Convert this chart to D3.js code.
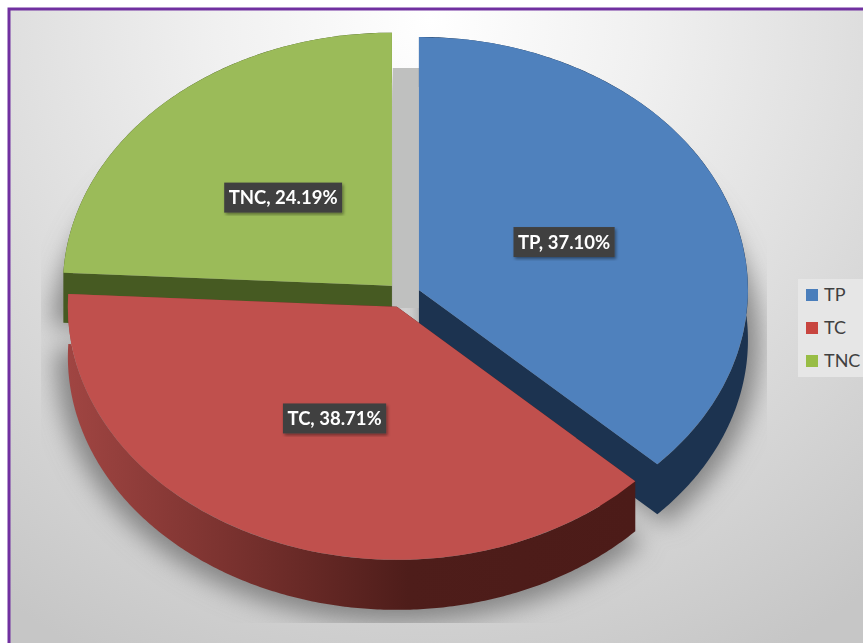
<!DOCTYPE html>
<html>
<head>
<meta charset="utf-8">
<script src="https://cdn.jsdelivr.net/npm/d3@7"></script>
<style>
  html, body { margin: 0; padding: 0; background: #fff; overflow: hidden; }
  svg { display: block; }
  text { font-family: Lato, "Open Sans", sans-serif; }
</style>
</head>
<body>
<svg width="863" height="643"></svg>
<script>
const categories = ["TP", "TC", "TNC"];
const percents = [37.10, 38.71, 24.19];
const topColors = ["#4f81bd", "#c0504d", "#9bbb59"];
const legendColors = ["#4a7ebb", "#c8453f", "#98bd45"];
const wallColors = ["#1c3350", "url(#redWall)", "#465a22"];

const svg = d3.select("svg");
const defs = svg.append("defs");

const cx = 403.5, cy = 295;
const rx = 329, ky = 0.769;
const depth = 50, explode = 16.8;
// how far out along the slice the labels sit
const labelRadius = 0.48;

// page background
const bg = defs.append("radialGradient").attr("id", "bg")
  .attr("gradientUnits", "userSpaceOnUse")
  .attr("cx", 430).attr("cy", 20).attr("r", 720);
bg.append("stop").attr("offset", 0).attr("stop-color", "#ffffff");
bg.append("stop").attr("offset", 0.3).attr("stop-color", "#f0f0f0");
bg.append("stop").attr("offset", 0.7).attr("stop-color", "#d8d8d8");
bg.append("stop").attr("offset", 1).attr("stop-color", "#c6c6c6");

const redWall = defs.append("linearGradient").attr("id", "redWall")
  .attr("gradientUnits", "userSpaceOnUse")
  .attr("x1", 68).attr("x2", 636).attr("y1", 0).attr("y2", 0);
redWall.append("stop").attr("offset", 0).attr("stop-color", "#a04542");
redWall.append("stop").attr("offset", 0.3).attr("stop-color", "#78312e");
redWall.append("stop").attr("offset", 0.6).attr("stop-color", "#4e1d1a");
redWall.append("stop").attr("offset", 1).attr("stop-color", "#4c1b18");

defs.append("filter").attr("id", "blur")
  .attr("x", "-20%").attr("y", "-20%").attr("width", "140%").attr("height", "140%")
  .append("feGaussianBlur").attr("stdDeviation", 12);

const labelShadow = defs.append("filter").attr("id", "labelShadow");
labelShadow.append("feDropShadow")
  .attr("dx", 1.5).attr("dy", 2).attr("stdDeviation", 1.5)
  .attr("flood-color", "#000").attr("flood-opacity", 0.4);

defs.append("clipPath").attr("id", "plotClip")
  .append("rect").attr("x", 41).attr("y", 68).attr("width", 726).attr("height", 555);

svg.append("rect").attr("width", 863).attr("height", 643).attr("fill", "#fff");
svg.append("rect").attr("x", 9).attr("y", 9).attr("width", 860).attr("height", 640)
  .attr("fill", "url(#bg)").attr("stroke", "#7030a0").attr("stroke-width", 3);

const pie = d3.pie().sort(null).startAngle(0).endAngle(2 * Math.PI);
const arcs = pie(percents).map((d, i) => {
  const mid = (d.startAngle + d.endAngle) / 2;
  const off = d3.pointRadial(mid, explode);
  return { ...d, i, mid, x: cx + off[0], y: cy + off[1] * ky };
});

const arc = d3.arc().innerRadius(0).outerRadius(rx);

// soft shadow under the pie, cut off by the plot rectangle
const shadow = svg.append("g").attr("clip-path", "url(#plotClip)");
shadow.append("g").attr("filter", "url(#blur)")
  .selectAll("path").data(arcs).enter().append("path")
  .attr("d", arc)
  .attr("transform", d => `translate(${d.x},${d.y + depth + 4}) scale(1.035,${ky * 1.035})`)
  .attr("fill", "#848484");
shadow.append("rect").attr("x", 393).attr("y", 68).attr("width", 26).attr("height", 240)
  .attr("fill", "#bfc0bf");

// side wall of a slice: rim band plus the cut faces, pushed down by depth
function wallPath(d) {
  const steps = d3.range(d.startAngle, d.endAngle, 0.01).concat([d.endAngle]);
  const rim = steps.map(a => d3.pointRadial(a, rx)).map(p => [d.x + p[0], d.y + p[1] * ky]);
  const area = d3.area().x(p => p[0]).y0(p => p[1]).y1(p => p[1] + depth);
  const face = d3.line();
  const apex = [d.x, d.y];
  const cut = p => face([apex, p, [p[0], p[1] + depth], [apex[0], apex[1] + depth]]) + "Z";
  return area(rim) + cut(rim[0]) + cut(rim[rim.length - 1]);
}

// back to front: green, blue, red
const order = [2, 0, 1].map(i => arcs[i]);
const slices = svg.selectAll("g.slice").data(order).enter().append("g").attr("class", "slice");
slices.append("path").attr("d", wallPath).attr("fill", d => wallColors[d.i]);
slices.append("path")
  .attr("d", arc)
  .attr("transform", d => `translate(${d.x},${d.y}) scale(1,${ky})`)
  .attr("fill", d => topColors[d.i]);

// data labels
const labels = svg.selectAll("g.label").data(arcs).enter().append("g").attr("class", "label")
  .attr("transform", d => {
    const p = d3.pointRadial(d.mid, rx * labelRadius);
    return `translate(${d.x + p[0]},${d.y + p[1] * ky})`;
  });
const labelText = d => `${categories[d.i]}, ${percents[d.i].toFixed(2)}%`;
labels.append("rect").attr("fill", "#404040").attr("filter", "url(#labelShadow)");
const labelTexts = labels.append("text")
  .attr("text-anchor", "middle").attr("dy", "0.35em")
  .attr("fill", "#fff").attr("font-size", 18.5).attr("font-weight", 700)
  .text(labelText);
labelTexts.each(function (d) {
  const w = this.getComputedTextLength() + 9;
  d3.select(this.parentNode).select("rect")
    .attr("x", -w / 2).attr("y", -15).attr("width", w).attr("height", 30);
});

// legend
svg.append("rect").attr("x", 798).attr("y", 279).attr("width", 65).attr("height", 98)
  .attr("fill", "#e6e6e6");
const legendY = d3.scalePoint().domain(categories).range([295, 361]);
const legend = svg.selectAll("g.legend").data(categories).enter().append("g").attr("class", "legend")
  .attr("transform", d => `translate(806,${legendY(d)})`);
legend.append("rect").attr("y", -6).attr("width", 12).attr("height", 12)
  .attr("fill", (d, i) => legendColors[i]);
legend.append("text").attr("x", 18).attr("dy", "0.36em")
  .attr("font-size", 18).attr("fill", "#404040").text(d => d);
</script>
</body>
</html>
